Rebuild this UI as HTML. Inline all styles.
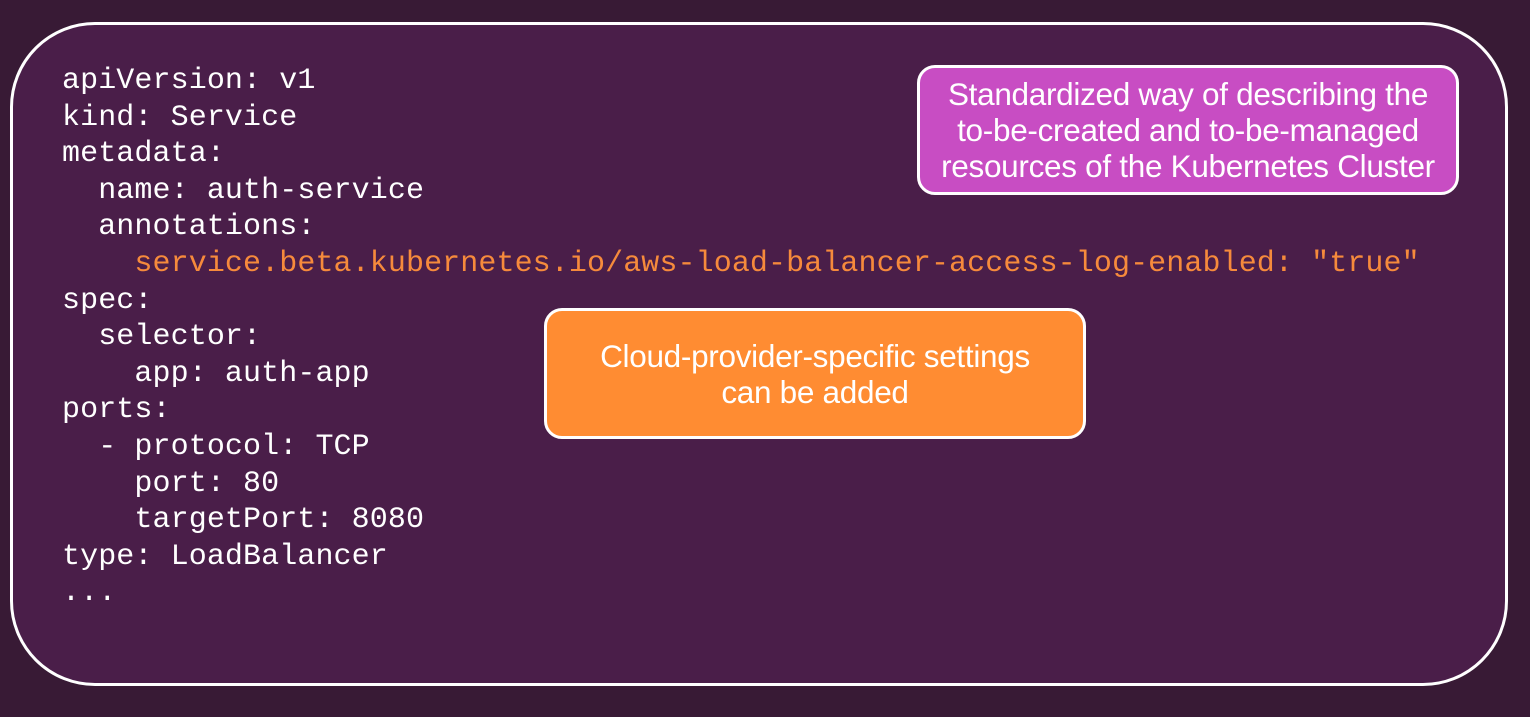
<!DOCTYPE html>
<html><head><style>
html,body{margin:0;padding:0}
body{width:1530px;height:717px;background:#381a35;position:relative;overflow:hidden;font-family:"Liberation Sans",sans-serif}
.outer{position:absolute;left:10px;top:22px;width:1492px;height:658px;border:3px solid #fff;border-radius:85px;background:#4a1e49}
pre{position:absolute;left:62px;top:63px;margin:0;font-family:"Liberation Mono",monospace;font-size:30px;line-height:36.6px;color:#fff;letter-spacing:0.1px}
.o{color:#f68a3c}
.box{position:absolute;border:3px solid #fff;border-radius:18px;color:#fff;text-align:center;font-size:31.5px;line-height:36px;box-sizing:border-box;display:flex;align-items:center;justify-content:center;letter-spacing:-0.3px;white-space:nowrap}
</style></head><body>
<div class="outer"></div>
<pre>apiVersion: v1
kind: Service
metadata:
  name: auth-service
  annotations:
    <span class="o">service.beta.kubernetes.io/aws-load-balancer-access-log-enabled: "true"</span>
spec:
  selector:
    app: auth-app
ports:
  - protocol: TCP
    port: 80
    targetPort: 8080
type: LoadBalancer
...</pre>
<div class="box" style="left:917px;top:65px;width:542px;height:130px;background:#c84dc3">Standardized way of describing the<br>to-be-created and to-be-managed<br>resources of the Kubernetes Cluster</div>
<div class="box" style="left:544px;top:308px;width:542px;height:131px;background:#ff8c32">Cloud-provider-specific settings<br>can be added</div>
</body></html>
